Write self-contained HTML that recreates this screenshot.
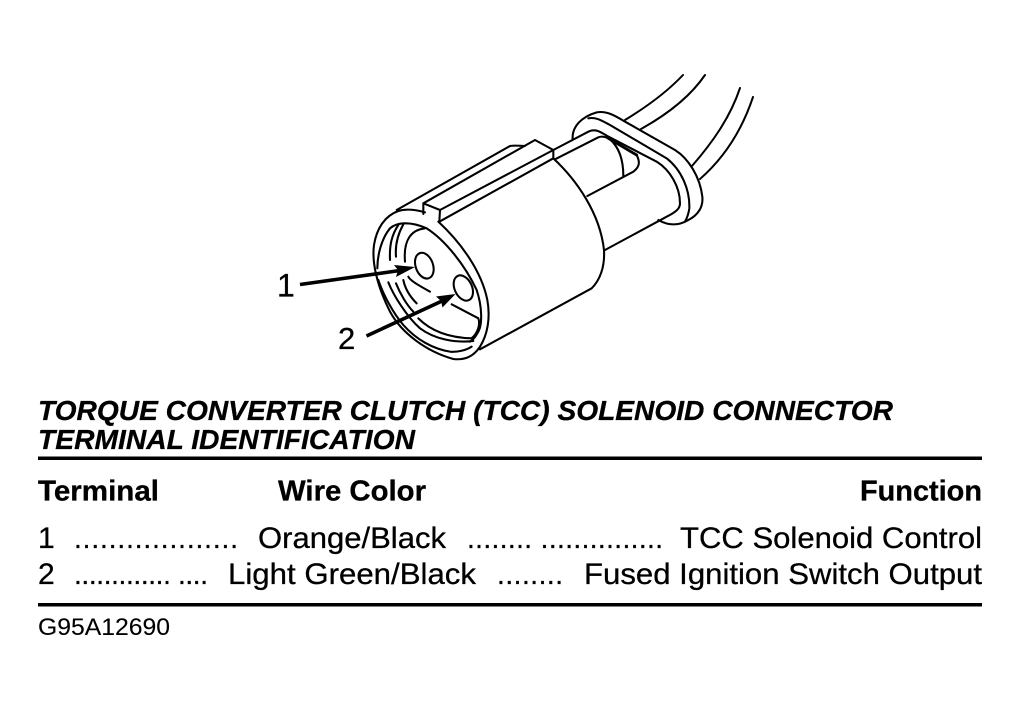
<!DOCTYPE html>
<html>
<head>
<meta charset="utf-8">
<style>
html,body{margin:0;padding:0;background:#fff;}
svg{display:block;}
text{font-family:"Liberation Sans",sans-serif;fill:#000;stroke:#000;stroke-width:.3;}
</style>
</head>
<body>
<svg width="1019" height="711" viewBox="0 0 1019 711" xmlns="http://www.w3.org/2000/svg">
<rect width="1019" height="711" fill="#fff"/>
<!-- wires -->
<g fill="none" stroke="#000" stroke-width="2" stroke-linecap="round">
  <path d="M683,75 C667,92 648,106 625,120"/>
  <path d="M705,75 C690,97 668,114 641,129"/>
  <path d="M740,88 C730,118 712,143 692,166"/>
  <path d="M753,97 C742,130 724,158 700,179"/>
</g>
<!-- grommet and rear of the connector -->
<g transform="translate(500 100) scale(.33333)" fill="none" stroke="#000" stroke-width="6.2" stroke-linecap="round" stroke-linejoin="round">
  <path d="M218,118 C215,80 245,50 290,37 C320,32 345,47 370,62 L525,150 C565,175 600,230 607,290 C610,320 595,345 565,360 C540,375 510,380 475,360"/>
  <path d="M265,55 C290,50 310,65 330,75 L500,175 C545,210 570,270 568,325 C566,340 562,352 555,365"/>
  <path d="M160,150 L265,95 C285,85 300,95 320,107 L470,185 C510,210 540,260 540,310 C540,325 530,335 500,350 L315,450"/>
  <path d="M165,178 L295,112 C305,108 315,110 325,115"/>
  <path d="M325,115 L410,165" stroke-width="8.5"/>
  <path d="M410,165 C420,185 420,200 400,215 L262,288"/>
  <path d="M330,118 C355,140 370,175 370,228"/>
</g>
<!-- body and key -->
<g transform="translate(360 70) scale(.33333)" fill="none" stroke="#000" stroke-width="6.2" stroke-linecap="round" stroke-linejoin="round">
  <path d="M110,420 L450,228 C465,225 480,228 495,228"/>
  <path d="M190,400 L525,210 L580,240 L240,420 L190,400 L190,432"/>
  <path d="M240,420 L238,455 L580,265 L580,240"/>
  <path d="M580,265 C650,330 720,430 732,540 C735,590 720,630 695,655 L360,838"/>
</g>
<!-- face -->
<g transform="translate(370 205) scale(.33333)" fill="none" stroke="#000" stroke-width="6.2" stroke-linecap="round" stroke-linejoin="round">
  <path d="M165,22 C140,15 110,10 85,18 C45,32 20,70 12,120 C5,170 20,240 60,320 C95,385 170,440 250,462 C285,466 310,455 330,425 C352,390 362,340 352,285 C335,200 275,115 205,50"/>
  <path d="M60,70 C80,52 120,48 170,70 C225,105 285,180 320,255 C335,300 340,360 322,385 C315,398 308,405 300,410"/>
  <path d="M60,70 C35,100 22,150 22,190"/>
  <path d="M85,60 C65,90 58,120 60,165"/>
  <path d="M100,58 C82,90 75,120 78,155"/>
  <path d="M105,170 C100,110 120,75 165,70"/>
  <path d="M25,225 C40,270 70,325 100,360 C140,405 190,432 240,440 C265,442 290,435 305,425"/>
  <path d="M55,232 C70,270 110,335 150,370 C190,400 250,415 310,408"/>
  <path d="M145,340 C185,380 240,398 305,400"/>
  <path d="M78,235 C90,265 110,300 130,320"/>
  <path d="M100,225 C105,250 120,275 140,295"/>
  <path d="M115,215 C120,225 135,235 180,260"/>
  <path d="M245,298 L325,340 C332,360 322,385 305,400"/>
  <ellipse cx="163" cy="182" rx="26" ry="40" transform="rotate(-20 163 182)" fill="#fff"/>
  <ellipse cx="280" cy="249" rx="26" ry="40" transform="rotate(-25 280 249)" fill="#fff"/>
</g>
<!-- arrows -->
<g stroke="#000" fill="#000">
  <line x1="300" y1="284.5" x2="400" y2="270.5" stroke-width="3.6"/>
  <polygon points="415,267 394,265 398,270 396,277" stroke="none"/>
  <line x1="366.5" y1="336" x2="442" y2="301" stroke-width="3.6"/>
  <polygon points="455.5,294 436,296.5 441,301 442.5,307.5" stroke="none"/>
</g>
<text x="277" y="296.5" font-size="32">1</text>
<text x="338" y="349" font-size="31">2</text>

<text x="38" y="420" font-size="28" font-weight="bold" font-style="italic" textLength="855" lengthAdjust="spacingAndGlyphs">TORQUE CONVERTER CLUTCH (TCC) SOLENOID CONNECTOR</text>
<text x="38" y="449" font-size="28" font-weight="bold" font-style="italic" textLength="377" lengthAdjust="spacingAndGlyphs">TERMINAL IDENTIFICATION</text>
<rect x="38" y="456.5" width="944" height="3.5" fill="#000"/>

<text x="38" y="500.5" font-size="29" font-weight="bold" textLength="121" lengthAdjust="spacingAndGlyphs">Terminal</text>
<text x="278" y="500.5" font-size="29" font-weight="bold" textLength="148" lengthAdjust="spacingAndGlyphs">Wire Color</text>
<text x="860" y="500.5" font-size="29" font-weight="bold" textLength="122" lengthAdjust="spacingAndGlyphs">Function</text>

<text x="38" y="548" font-size="30">1</text>
<text x="74" y="548" font-size="28" textLength="164" lengthAdjust="spacing">...................</text>
<text x="258" y="548" font-size="30" textLength="188" lengthAdjust="spacingAndGlyphs">Orange/Black</text>
<text x="467" y="548" font-size="28" textLength="196" lengthAdjust="spacing">........ ...............</text>
<text x="680" y="548" font-size="30" textLength="302" lengthAdjust="spacingAndGlyphs">TCC Solenoid Control</text>

<text x="38" y="584" font-size="30">2</text>
<text x="74" y="584" font-size="28" textLength="134" lengthAdjust="spacing">............. ....</text>
<text x="228" y="584" font-size="30" textLength="248" lengthAdjust="spacingAndGlyphs">Light Green/Black</text>
<text x="497" y="584" font-size="28" textLength="66" lengthAdjust="spacing">........</text>
<text x="584" y="584" font-size="30" textLength="398" lengthAdjust="spacingAndGlyphs">Fused Ignition Switch Output</text>

<rect x="38" y="603" width="944" height="3.5" fill="#000"/>
<text x="38" y="635" font-size="24.5" textLength="132" lengthAdjust="spacingAndGlyphs" style="stroke-width:.1">G95A12690</text>
</svg>
</body>
</html>
